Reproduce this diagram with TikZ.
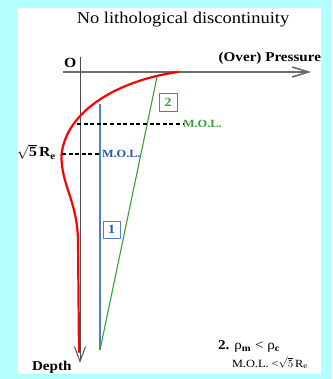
\documentclass[tikz,border=0pt]{standalone}
\usepackage{fontspec}
\setmainfont{Liberation Serif}[FakeStretch=1.12]
\usetikzlibrary{positioning, arrows.meta}
\definecolor{bgcyan}{RGB}{179,255,255}
\definecolor{molblue}{RGB}{40,85,170}
\definecolor{lineblue}{RGB}{79,129,200}
\definecolor{molgreen}{RGB}{56,160,56}
\tikzset{
    lbl/.style={inner sep=0pt, outer sep=0pt},
    axisP/.style={-{Straight Barb[length=16pt,width=10pt]}, line width=1.6pt, gray!85!black},
    axisD/.style={-{Straight Barb[length=15pt,width=11pt]}, line width=1pt, black!70},
    profile/.style={red, line width=2.2pt, line cap=round},
    molline/.style={dash pattern=on 4pt off 2.6pt, line width=1.2pt, black},
    casebox/.style={draw, line width=0.8pt, minimum size=17pt, inner sep=0pt, font=\bfseries\fontsize{12.5}{13}\selectfont}
}

\begin{document}
\begin{tikzpicture}[x=1pt, y=-1pt]
    \useasboundingbox (0,0) rectangle (332,379);
    \fill[bgcyan] (0,0) rectangle (332,379);
    \fill[white] (17,8) rectangle (321,374);

    % titre et axes
    \node (title) [lbl, anchor=base, font=\fontsize{16.5}{18}\selectfont] at (183,24) {No lithological discontinuity};
    \coordinate (orig) at (80,72);
    \coordinate (pstart) at (63,72);
    \coordinate (pend) at (311,72);
    \coordinate (dstart) at (80,57);
    \coordinate (dend) at (80,363);
    \node (olab) [lbl, anchor=base west, font=\bfseries\fontsize{14}{15}\selectfont] at (64,68) {O};
    \node (plab) [lbl, anchor=base east, font=\bfseries\fontsize{13.5}{15}\selectfont] at (321,62) {(Over) Pressure};
    \node (dlab) [lbl, anchor=base west, font=\bfseries\fontsize{13.5}{15}\selectfont] at (32,370) {Depth};
    \draw[axisP] (pstart) -- (pend);
    \draw[axisD] (dstart) -- (dend);

    % profil de pression
    \draw[profile] (178,72) .. controls (120,80) and (66,110) .. (61.5,155)
        .. controls (61,185) and (77,200) .. (78,240) -- (79,352);

    % droites 1 et 2
    \coordinate (btop) at (100,104);
    \coordinate (bbot) at (100,350);
    \coordinate (gtop) at (157,77);
    \draw[lineblue, line width=1.1pt] (btop) -- (bbot);
    \draw[molgreen, line width=1.1pt] (gtop) -- (bbot);
    \node (box1) [casebox, draw=lineblue, text=molblue] at (111.5,229.5) {1};
    \node (box2) [casebox, draw=molgreen, text=molgreen, minimum size=18pt] at (168,102.5) {2};

    % niveaux M.O.L.
    \coordinate (gred) at (77,124);
    \coordinate (bred) at (62,154);
    \node (molG) [lbl, anchor=base west, text=molgreen, font=\bfseries\fontsize{11}{12}\selectfont] at (183,127.5) {M.O.L.};
    \node (molB) [lbl, anchor=base west, text=molblue, font=\bfseries\fontsize{11}{12}\selectfont] at (102,158) {M.O.L.};
    \node (rlab) [lbl, anchor=base west, font=\bfseries\fontsize{14}{15}\selectfont] at (17,157) {$\sqrt{\hbox{\bfseries 5}}$\,R\textsubscript{e}};
    \draw[molline] (gred) -- (molG.west |- gred);
    \draw[molline] (bred) -- (btop |- bred);

    % cas 2
    \node (case) [lbl, anchor=base west, font=\fontsize{13.5}{15}\selectfont] at (218,349) {\textbf{2.} ρ\textsubscript{\textbf{m}} < ρ\textsubscript{\textbf{c}}};
    \node (cond) [lbl, anchor=base west, font=\fontsize{11}{12}\selectfont] at (232,367) {M.O.L. <$\sqrt{5}$\,R\textsubscript{e}};
\end{tikzpicture}
\end{document}
